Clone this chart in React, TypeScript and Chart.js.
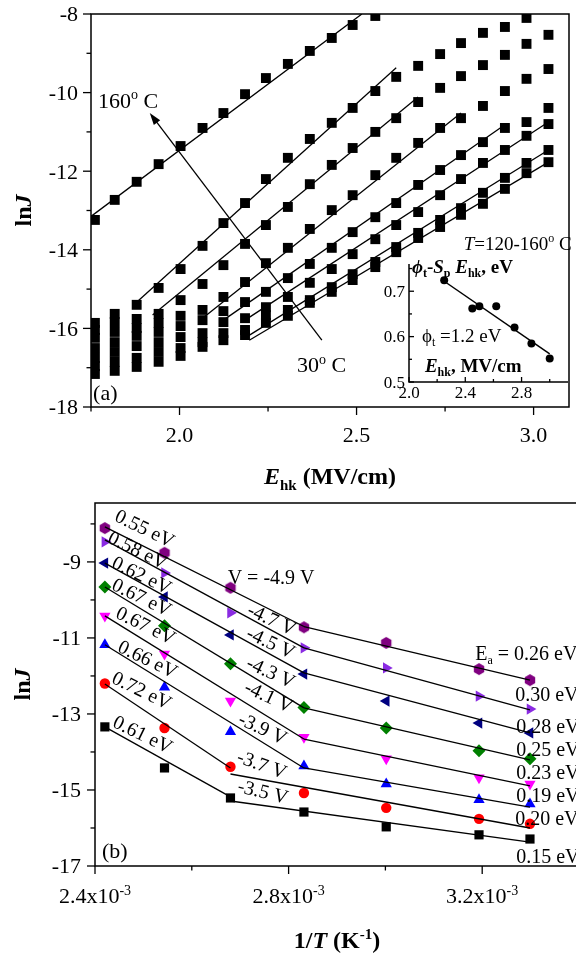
import { useEffect, useRef } from 'react'
import { Chart, registerables } from 'chart.js'

Chart.register(...registerables)

const FONT = '"Liberation Serif", "Times New Roman", serif'

// ---------- (a) lnJ vs E_hk, 30..160 C ----------
const E_HK = [1.761, 1.817, 1.879, 1.941, 2.003, 2.065, 2.124, 2.185, 2.244, 2.306, 2.368, 2.43, 2.489, 2.553, 2.612, 2.674, 2.736, 2.795, 2.857, 2.919, 2.98, 3.042]

const LNJ_160 = [-13.24, -12.73, -12.27, -11.82, -11.36, -10.9, -10.52, -10.04, -9.63, -9.27, -8.94, -8.61, -8.28, -8.05]
const LNJ_140 = [-15.86, -15.63, -15.4, -14.97, -14.49, -13.9, -13.32, -12.81, -12.2, -11.66, -11.18, -10.77, -10.39, -9.96, -9.6, -9.32, -9.02, -8.74, -8.48, -8.33, -8.1]
const LNJ_120 = [-16.04, -15.84, -15.76, -15.63, -15.28, -14.87, -14.39, -13.85, -13.37, -12.91, -12.33, -11.84, -11.41, -11.0, -10.65, -10.24, -9.88, -9.58, -9.3, -9.04, -8.76, -8.53]
const LNJ_100 = [-16.24, -16.09, -15.99, -15.86, -15.68, -15.53, -15.2, -14.82, -14.34, -13.95, -13.47, -12.99, -12.61, -12.1, -11.66, -11.28, -10.9, -10.65, -10.34, -9.96, -9.65, -9.4]
const LNJ_80 = [-16.5, -16.35, -16.19, -16.09, -15.94, -15.79, -15.56, -15.33, -15.07, -14.72, -14.36, -13.95, -13.55, -13.17, -12.81, -12.35, -11.97, -11.59, -11.26, -10.9, -10.75, -10.39]
const LNJ_60 = [-16.75, -16.6, -16.45, -16.35, -16.22, -16.12, -15.84, -15.74, -15.46, -15.2, -14.84, -14.49, -14.11, -13.73, -13.37, -13.04, -12.61, -12.2, -11.79, -11.46, -11.1, -10.8]
const LNJ_40 = [-16.96, -16.85, -16.75, -16.6, -16.5, -16.35, -16.12, -16.04, -15.66, -15.53, -15.28, -14.95, -14.62, -14.31, -13.93, -13.57, -13.24, -12.94, -12.55, -12.17, -11.79, -11.46]
const LNJ_30 = [-17.16, -17.08, -16.98, -16.85, -16.7, -16.47, -16.3, -16.17, -15.86, -15.68, -15.35, -15.07, -14.77, -14.44, -14.06, -13.7, -13.42, -13.11, -12.83, -12.45, -12.05, -11.77]

// linear fits, [start, end]
const FIT_160 = [[1.75, -13.15], [2.515, -8.0]]
const FIT_140 = [[1.871, -15.4], [2.612, -9.37]]
const FIT_120 = [[1.924, -15.66], [2.674, -10.11]]
const FIT_100 = [[2.065, -15.74], [2.795, -10.52]]
const FIT_80 = [[2.124, -15.79], [2.919, -10.82]]
const FIT_60 = [[2.185, -15.79], [3.042, -10.75]]
const FIT_40 = [[2.185, -16.24], [3.042, -11.46]]
const FIT_30 = [[2.197, -16.3], [3.042, -11.77]]

// inset: phi_t - S_p E_hk vs E_hk
const INSET_E = [2.25, 2.45, 2.5, 2.62, 2.75, 2.87, 3.0]
const INSET_PHI = [0.724, 0.662, 0.667, 0.667, 0.62, 0.585, 0.552]
const INSET_FIT = [[2.25, 0.722], [3.0, 0.562]]

// ---------- (b) lnJ vs 1/T at several gate voltages ----------
const INV_T = [2.4204e-3, 2.5436e-3, 2.6799e-3, 2.8317e-3, 3.0017e-3, 3.1934e-3, 3.2987e-3]

const LNJ_V49 = [-8.11, -8.76, -9.68, -10.72, -11.13, -11.82, -12.11]
const LNJ_V47 = [-8.47, -9.29, -10.34, -11.26, -11.79, -12.53, -12.87]
const LNJ_V45 = [-9.03, -9.92, -10.92, -11.95, -12.66, -13.24, -13.5]
const LNJ_V43 = [-9.66, -10.68, -11.68, -12.83, -13.37, -13.97, -14.18]
const LNJ_V41 = [-10.42, -11.42, -12.66, -13.61, -14.18, -14.68, -14.84]
const LNJ_V39 = [-11.18, -12.3, -13.47, -14.37, -14.84, -15.26, -15.37]
const LNJ_V37 = [-12.2, -13.37, -14.39, -15.08, -15.47, -15.76, -15.89]
const LNJ_V35 = [-13.34, -14.42, -15.21, -15.58, -15.97, -16.18, -16.29]

const STEEP_FITS = [
  [[2.4204e-3, -8.08], [2.8317e-3, -10.7]],
  [[2.4204e-3, -8.42], [2.8317e-3, -11.26]],
  [[2.4204e-3, -9.03], [2.8317e-3, -11.92]],
  [[2.4204e-3, -9.66], [2.8317e-3, -12.84]],
  [[2.4204e-3, -10.42], [2.8317e-3, -13.66]],
  [[2.4204e-3, -11.18], [2.8317e-3, -14.42]],
  [[2.4204e-3, -12.21], [2.6799e-3, -14.42]],
  [[2.4204e-3, -13.34], [2.6799e-3, -15.18]],
]
const SHALLOW_FITS = [
  [[2.8317e-3, -10.7], [3.2987e-3, -12.11]],
  [[2.8317e-3, -11.26], [3.2987e-3, -12.89]],
  [[2.8317e-3, -11.92], [3.2987e-3, -13.5]],
  [[2.8317e-3, -12.84], [3.2987e-3, -14.21]],
  [[2.8317e-3, -13.66], [3.2987e-3, -14.89]],
  [[2.8317e-3, -14.42], [3.2987e-3, -15.45]],
  [[2.6799e-3, -14.58], [3.2987e-3, -16.0]],
  [[2.6799e-3, -15.29], [3.2987e-3, -16.37]],
]

const GATE_V = ['-4.9 V', '-4.7 V', '-4.5 V', '-4.3 V', '-4.1 V', '-3.9 V', '-3.7 V', '-3.5 V']
const EA_HIGH_T = ['0.55 eV', '0.58 eV', '0.62 eV', '0.67 eV', '0.67 eV', '0.66 eV', '0.72 eV', '0.61 eV']
const EA_LOW_T = ['0.26 eV', '0.30 eV', '0.28 eV', '0.25 eV', '0.23 eV', '0.19 eV', '0.20 eV', '0.15 eV']

// label anchors (data coords) and angles
const EA_HIGH_POS = [[2.5034e-3, -8.11], [2.4889e-3, -8.68], [2.4972e-3, -9.34], [2.4972e-3, -9.92], [2.5054e-3, -10.66], [2.5096e-3, -11.55], [2.4972e-3, -12.37], [2.4992e-3, -13.53]]
const GATE_V_POS = [[2.7638e-3, -9.39], [2.7659e-3, -10.5], [2.7638e-3, -11.11], [2.7638e-3, -11.89], [2.7597e-3, -12.53], [2.7473e-3, -13.37], [2.7452e-3, -14.32], [2.7473e-3, -15.03]]
const GATE_V_ANGLE = [0, 25, 25, 25, 25, 25, 20, 14]
const EA_LOW_POS = [[3.1855e-3, -11.39], [3.2682e-3, -12.47], [3.2703e-3, -13.32], [3.2703e-3, -13.92], [3.2703e-3, -14.53], [3.2703e-3, -15.13], [3.2682e-3, -15.74], [3.2703e-3, -16.74]]

type Seg = { t: string; b?: boolean; i?: boolean; sub?: boolean; sup?: boolean }

function drawRich(ctx: CanvasRenderingContext2D, segs: Seg[], x: number, y: number, size: number,
  align: 'left' | 'center' | 'right' = 'left', angle = 0) {
  ctx.save()
  ctx.translate(x, y)
  if (angle) ctx.rotate((angle * Math.PI) / 180)
  ctx.fillStyle = '#000'
  ctx.textAlign = 'left'
  ctx.textBaseline = 'alphabetic'
  const parts = segs.map((s) => {
    const small = s.sub || s.sup
    const font = `${s.i ? 'italic ' : ''}${s.b ? 'bold ' : ''}${small ? Math.round(size * 0.62) : size}px ${FONT}`
    ctx.font = font
    return { s, font, w: ctx.measureText(s.t).width }
  })
  const total = parts.reduce((acc, p) => acc + p.w, 0)
  let cx = align === 'left' ? 0 : align === 'center' ? -total / 2 : -total
  const base = size * 0.34
  for (const p of parts) {
    ctx.font = p.font
    const dy = p.s.sub ? size * 0.24 : p.s.sup ? -size * 0.4 : 0
    ctx.fillText(p.s.t, cx, base + dy)
    cx += p.w
  }
  ctx.restore()
}

type AxesCfg = {
  box: boolean
  inward: boolean
  major: number
  minor: number
  font: number
  xMajor: (v: number) => boolean
  yMajor: (v: number) => boolean
  xLabel: (v: number) => Seg[]
  yLabel: (v: number) => string
  xLabelDy: number
  yLabelDx: number
}

function axesPlugin(id: string, cfg: AxesCfg) {
  return {
    id,
    afterDraw(chart: Chart) {
      const { ctx, chartArea: a } = chart
      const xs = chart.scales.x
      const ys = chart.scales.y
      ctx.save()
      ctx.strokeStyle = '#000'
      ctx.lineWidth = 1.5
      ctx.beginPath()
      if (cfg.box) ctx.rect(a.left, a.top, a.right - a.left, a.bottom - a.top)
      else {
        ctx.moveTo(a.left, a.top)
        ctx.lineTo(a.left, a.bottom)
        ctx.lineTo(a.right, a.bottom)
      }
      ctx.stroke()
      const dir = cfg.inward ? -1 : 1
      ctx.lineWidth = 1.3
      for (const t of xs.ticks) {
        const px = xs.getPixelForValue(t.value)
        const major = cfg.xMajor(t.value)
        ctx.beginPath()
        ctx.moveTo(px, a.bottom)
        ctx.lineTo(px, a.bottom + dir * (major ? cfg.major : cfg.minor))
        ctx.stroke()
        if (major) drawRich(ctx, cfg.xLabel(t.value), px, a.bottom + cfg.xLabelDy, cfg.font, 'center')
      }
      for (const t of ys.ticks) {
        const py = ys.getPixelForValue(t.value)
        const major = cfg.yMajor(t.value)
        ctx.beginPath()
        ctx.moveTo(a.left, py)
        ctx.lineTo(a.left - dir * (major ? cfg.major : cfg.minor), py)
        ctx.stroke()
        if (major) drawRich(ctx, [{ t: cfg.yLabel(t.value) }], a.left - cfg.yLabelDx, py, cfg.font, 'right')
      }
      ctx.restore()
    },
  }
}

function linScale(min: number, max: number, step: number, fit: { width?: number; height?: number }) {
  return {
    type: 'linear' as const,
    min,
    max,
    ticks: { stepSize: step, display: false, includeBounds: false, autoSkip: false },
    grid: { display: false, drawTicks: false },
    border: { display: false },
    afterFit: (s: any) => {
      if (fit.width !== undefined) s.width = fit.width
      if (fit.height !== undefined) s.height = fit.height
    },
  }
}

const pts = (xs: number[], ys: number[]) => ys.map((y, i) => ({ x: xs[i], y }))
const seg = (p: number[][]) => p.map(([x, y]) => ({ x, y }))

function hexagon(color: string, r: number) {
  const c = document.createElement('canvas')
  const s = Math.ceil(r * 2 + 2)
  c.width = s
  c.height = s
  const g = c.getContext('2d')!
  g.fillStyle = color
  g.beginPath()
  for (let i = 0; i < 6; i++) {
    const ang = -Math.PI / 2 + (i * Math.PI) / 3
    const px = s / 2 + r * Math.cos(ang)
    const py = s / 2 + r * Math.sin(ang)
    if (i === 0) g.moveTo(px, py)
    else g.lineTo(px, py)
  }
  g.closePath()
  g.fill()
  return c
}

function panelA(): any {
  const series = [LNJ_160, LNJ_140, LNJ_120, LNJ_100, LNJ_80, LNJ_60, LNJ_40, LNJ_30]
  const fits = [FIT_160, FIT_140, FIT_120, FIT_100, FIT_80, FIT_60, FIT_40, FIT_30]
  const text = {
    id: 'textA',
    afterDraw(chart: Chart) {
      const { ctx, chartArea: a } = chart
      const xs = chart.scales.x
      const ys = chart.scales.y
      // arrow 30 C -> 160 C
      const x0 = xs.getPixelForValue(2.402), y0 = ys.getPixelForValue(-16.3)
      const x1 = xs.getPixelForValue(1.916), y1 = ys.getPixelForValue(-10.52)
      const ang = Math.atan2(y1 - y0, x1 - x0)
      ctx.save()
      ctx.strokeStyle = '#000'
      ctx.fillStyle = '#000'
      ctx.lineWidth = 1.3
      ctx.beginPath()
      ctx.moveTo(x0, y0)
      ctx.lineTo(x1 - 8 * Math.cos(ang), y1 - 8 * Math.sin(ang))
      ctx.stroke()
      ctx.beginPath()
      ctx.moveTo(x1, y1)
      ctx.lineTo(x1 - 12 * Math.cos(ang) + 4 * Math.sin(ang), y1 - 12 * Math.sin(ang) - 4 * Math.cos(ang))
      ctx.lineTo(x1 - 12 * Math.cos(ang) - 4 * Math.sin(ang), y1 - 12 * Math.sin(ang) + 4 * Math.cos(ang))
      ctx.closePath()
      ctx.fill()
      ctx.restore()
      drawRich(ctx, [{ t: '160' }, { t: 'o', sup: true }, { t: ' C' }], xs.getPixelForValue(1.77), ys.getPixelForValue(-10.19), 22)
      drawRich(ctx, [{ t: '30' }, { t: 'o', sup: true }, { t: ' C' }], xs.getPixelForValue(2.3315), ys.getPixelForValue(-16.93), 22)
      drawRich(ctx, [{ t: '(a)' }], xs.getPixelForValue(1.756), ys.getPixelForValue(-17.62), 22)
      drawRich(ctx, [{ t: 'E', b: true, i: true }, { t: 'hk', b: true, sub: true }, { t: ' (MV/cm)', b: true }],
        (a.left + a.right) / 2, a.bottom + 69, 24, 'center')
      drawRich(ctx, [{ t: 'ln', b: true }, { t: 'J', b: true, i: true }], a.left - 68, (a.top + a.bottom) / 2, 24, 'center', -90)
    },
  }
  return {
    type: 'scatter',
    data: {
      datasets: [
        ...fits.map((f) => ({ data: seg(f), showLine: true, borderColor: '#000', borderWidth: 1.3, pointRadius: 0, order: 0 })),
        ...series.map((s) => ({ data: pts(E_HK, s), pointStyle: 'rect', pointRadius: 7, backgroundColor: '#000', borderColor: '#000', borderWidth: 0, order: 1 })),
      ],
    },
    options: {
      animation: false,
      responsive: true,
      maintainAspectRatio: false,
      events: [],
      layout: { padding: { top: 14, right: 2, left: 0, bottom: 0 } },
      plugins: { legend: { display: false }, tooltip: { enabled: false } },
      scales: { x: linScale(1.75, 3.1, 0.25, { height: 98 }), y: linScale(-18, -8, 1, { width: 91 }) },
    },
    plugins: [
      axesPlugin('axesA', {
        box: true, inward: false, major: 8, minor: 4.5, font: 22,
        xMajor: (v) => Math.round(v * 100) % 50 === 0,
        yMajor: (v) => Math.round(v) % 2 === 0,
        xLabel: (v) => [{ t: v.toFixed(1) }],
        yLabel: (v) => String(Math.round(v)),
        xLabelDy: 28, yLabelDx: 13,
      }),
      text,
    ],
  }
}

function inset(): any {
  const text = {
    id: 'textInset',
    afterDraw(chart: Chart) {
      const { ctx } = chart
      const xs = chart.scales.x
      const ys = chart.scales.y
      const X = (v: number) => xs.getPixelForValue(v)
      const Y = (v: number) => ys.getPixelForValue(v)
      drawRich(ctx, [{ t: 'T', i: true }, { t: '=120-160' }, { t: 'o', sup: true }, { t: ' C' }], X(3.156), Y(0.805), 19, 'right')
      drawRich(ctx, [{ t: 'ϕ', b: true, i: true }, { t: 't', b: true, sub: true }, { t: '-', b: true }, { t: 'S', b: true, i: true },
        { t: 'p', b: true, sub: true }, { t: ' ' }, { t: 'E', b: true, i: true }, { t: 'hk', b: true, sub: true }, { t: ', eV', b: true }],
        X(2.021), Y(0.755), 19)
      drawRich(ctx, [{ t: 'ϕ' }, { t: 't', sub: true }, { t: ' =1.2 eV' }], X(2.092), Y(0.603), 19)
      drawRich(ctx, [{ t: 'E', b: true, i: true }, { t: 'hk', b: true, sub: true }, { t: ', MV/cm', b: true }], X(2.113), Y(0.537), 19)
    },
  }
  return {
    type: 'scatter',
    data: {
      datasets: [
        { data: seg(INSET_FIT), showLine: true, borderColor: '#000', borderWidth: 1.5, pointRadius: 0, order: 0 },
        { data: pts(INSET_E, INSET_PHI), pointStyle: 'circle', pointRadius: 4, backgroundColor: '#000', borderWidth: 0, order: 1 },
      ],
    },
    options: {
      animation: false,
      responsive: true,
      maintainAspectRatio: false,
      events: [],
      layout: { padding: { top: 36, right: 8, left: 0, bottom: 0 } },
      plugins: { legend: { display: false }, tooltip: { enabled: false } },
      scales: { x: linScale(2.0, 3.13, 0.2, { height: 28 }), y: linScale(0.5, 0.76, 0.05, { width: 49 }) },
    },
    plugins: [
      axesPlugin('axesInset', {
        box: false, inward: true, major: 5, minor: 3, font: 17,
        xMajor: (v) => Math.round(v * 10) % 4 === 0,
        yMajor: (v) => Math.round(v * 100) % 10 === 0,
        xLabel: (v) => [{ t: v.toFixed(1) }],
        yLabel: (v) => v.toFixed(1),
        xLabelDy: 10, yLabelDx: 4,
      }),
      text,
    ],
  }
}

function panelB(): any {
  const series = [LNJ_V49, LNJ_V47, LNJ_V45, LNJ_V43, LNJ_V41, LNJ_V39, LNJ_V37, LNJ_V35]
  const markers: { style: any; color: string; r: number; rot: number }[] = [
    { style: hexagon('#800080', 6), color: '#800080', r: 6, rot: 0 },
    { style: 'triangle', color: '#8a2be2', r: 6.5, rot: 90 },
    { style: 'triangle', color: '#000080', r: 6.5, rot: 270 },
    { style: 'rectRot', color: '#008000', r: 6.5, rot: 0 },
    { style: 'triangle', color: '#ff00ff', r: 6.5, rot: 180 },
    { style: 'triangle', color: '#0000ff', r: 6.5, rot: 0 },
    { style: 'circle', color: '#ff0000', r: 5.2, rot: 0 },
    { style: 'rect', color: '#000000', r: 6.5, rot: 0 },
  ]
  const text = {
    id: 'textB',
    afterDraw(chart: Chart) {
      const { ctx, chartArea: a } = chart
      const xs = chart.scales.x
      const ys = chart.scales.y
      const X = (v: number) => xs.getPixelForValue(v)
      const Y = (v: number) => ys.getPixelForValue(v)
      EA_HIGH_T.forEach((s, i) => drawRich(ctx, [{ t: s }], X(EA_HIGH_POS[i][0]), Y(EA_HIGH_POS[i][1]), 20, 'center', 26))
      GATE_V.forEach((s, i) => drawRich(ctx, [{ t: i === 0 ? 'V = ' + s : s }], X(GATE_V_POS[i][0]), Y(GATE_V_POS[i][1]), 20, 'center', GATE_V_ANGLE[i]))
      EA_LOW_T.forEach((s, i) => drawRich(ctx, i === 0 ? [{ t: 'E' }, { t: 'a', sub: true }, { t: ' = ' + s }] : [{ t: s }],
        X(EA_LOW_POS[i][0]), Y(EA_LOW_POS[i][1]), 20))
      drawRich(ctx, [{ t: '(b)' }], X(2.4145e-3), Y(-16.58), 22)
      drawRich(ctx, [{ t: '1/', b: true }, { t: 'T', b: true, i: true }, { t: ' (K', b: true }, { t: '-1', b: true, sup: true }, { t: ')', b: true }],
        (a.left + a.right) / 2, a.bottom + 74, 24, 'center')
      drawRich(ctx, [{ t: 'ln', b: true }, { t: 'J', b: true, i: true }], a.left - 73, (a.top + a.bottom) / 2, 24, 'center', -90)
    },
  }
  return {
    type: 'scatter',
    data: {
      datasets: [
        ...STEEP_FITS.map((f) => ({ data: seg(f), showLine: true, borderColor: '#000', borderWidth: 1.3, pointRadius: 0, order: 0 })),
        ...SHALLOW_FITS.map((f) => ({ data: seg(f), showLine: true, borderColor: '#000', borderWidth: 1.3, pointRadius: 0, order: 0 })),
        ...series.map((s, i) => ({
          data: pts(INV_T, s),
          pointStyle: markers[i].style,
          pointRadius: markers[i].r,
          pointRotation: markers[i].rot,
          backgroundColor: markers[i].color,
          borderColor: markers[i].color,
          borderWidth: 0,
          order: 1,
        })),
      ],
    },
    options: {
      animation: false,
      responsive: true,
      maintainAspectRatio: false,
      events: [],
      layout: { padding: { top: 8, right: 11, left: 0, bottom: 0 } },
      plugins: { legend: { display: false }, tooltip: { enabled: false } },
      scales: { x: linScale(2.4e-3, 3.4e-3, 2e-4, { height: 91 }), y: linScale(-17, -7.45, 1, { width: 95 }) },
    },
    plugins: [
      axesPlugin('axesB', {
        box: true, inward: false, major: 8, minor: 4.5, font: 22,
        xMajor: (v) => Math.round(v * 1e4) % 4 === 0,
        yMajor: (v) => Math.abs(Math.round(v)) % 2 === 1,
        xLabel: (v) => [{ t: (v * 1e3).toFixed(1) + 'x10' }, { t: '-3', sup: true }],
        yLabel: (v) => String(Math.round(v)),
        xLabelDy: 30, yLabelDx: 14,
      }),
      text,
    ],
  }
}

export default function App() {
  const aRef = useRef<HTMLCanvasElement | null>(null)
  const bRef = useRef<HTMLCanvasElement | null>(null)
  const insetRef = useRef<HTMLCanvasElement | null>(null)

  useEffect(() => {
    const charts: Chart[] = []
    if (aRef.current) charts.push(new Chart(aRef.current, panelA()))
    if (bRef.current) charts.push(new Chart(bRef.current, panelB()))
    if (insetRef.current) charts.push(new Chart(insetRef.current, inset()))
    return () => charts.forEach((c) => c.destroy())
  }, [])

  return (
    <div style={{ position: 'absolute', left: 0, top: 0, width: 576, height: 957, overflow: 'hidden', background: '#fff' }}>
      <div style={{ position: 'absolute', left: 0, top: 0, width: 576, height: 505 }}>
        <canvas ref={aRef} />
      </div>
      <div style={{ position: 'absolute', left: 0, top: 495, width: 590, height: 462 }}>
        <canvas ref={bRef} />
      </div>
      <div style={{ position: 'absolute', left: 360, top: 228, width: 216, height: 182 }}>
        <canvas ref={insetRef} />
      </div>
    </div>
  )
}
